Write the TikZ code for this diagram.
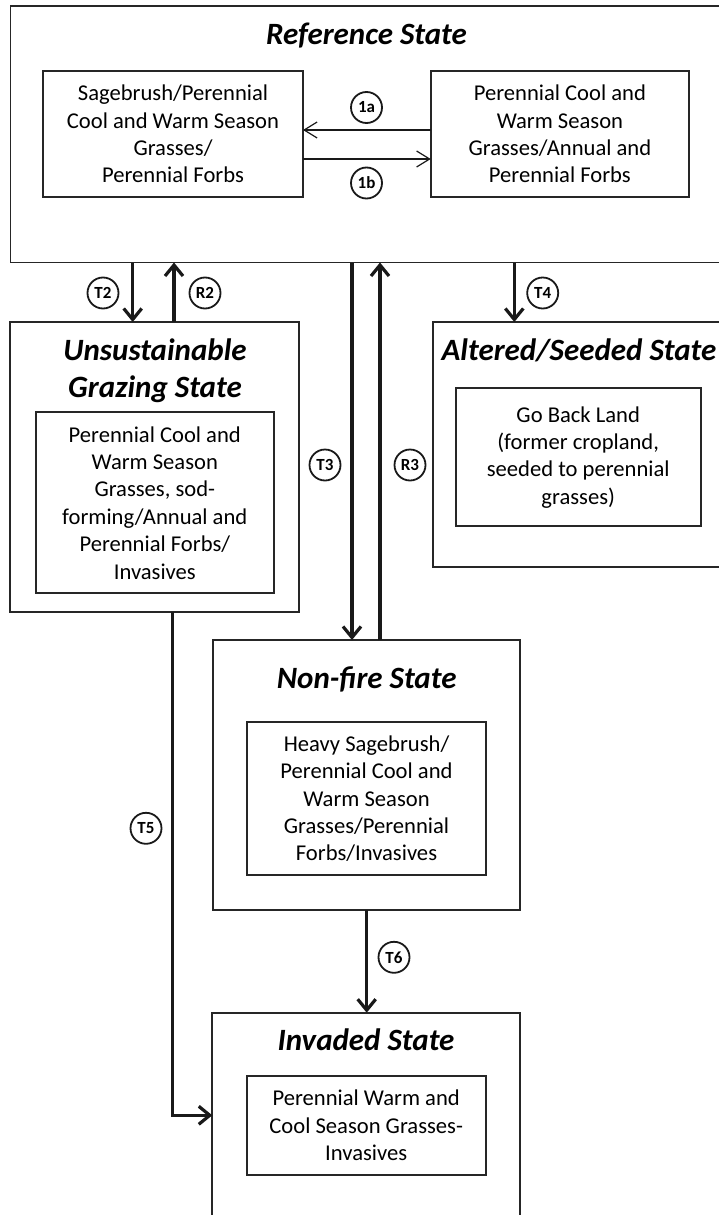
\documentclass[tikz,border=0pt]{standalone}
\usepackage{fontspec}
\setmainfont{Carlito}
\usetikzlibrary{arrows.meta}

\begin{document}
\begin{tikzpicture}[x=1pt,y=-1pt,
  statebox/.style={draw=black!85, line width=1.8pt, inner sep=0pt, outer sep=0pt},
  phasebox/.style={draw=black!85, line width=1.8pt, inner sep=0pt, outer sep=0pt,
    align=center, font=\fontsize{22.6}{27.4}\selectfont},
  statetitle/.style={font=\fontsize{31}{37}\selectfont\bfseries\itshape, align=center, inner sep=0pt},
  tag/.style={circle, draw=black!90, line width=1.8pt, minimum size=31pt, inner sep=0pt,
    font=\fontsize{17}{17}\selectfont\bfseries},
  conn/.style={draw=black!90, line width=3.2pt, -{Straight Barb[length=11pt,width=18pt]}},
  thinconn/.style={draw=black!90, line width=1.2pt, -{Straight Barb[length=13pt,width=16pt]}},
]
\path[use as bounding box] (0,0) rectangle (719,1215);
\clip (0,0) rectangle (719,1215);

% --- states (outer boxes) ---
\node[statebox, minimum width=729.5pt, minimum height=256.5pt] (ref) at (375.25,134.25) {};
\node[statebox, minimum width=289.3pt, minimum height=290pt]   (uns) at (154.65,467) {};
\node[statebox, minimum width=293.7pt, minimum height=244.7pt] (alt) at (580.15,444.35) {};
\node[statebox, minimum width=307.3pt, minimum height=270pt]   (nof) at (366.35,775) {};
\node[statebox, minimum width=307.7pt, minimum height=227.3pt] (inv) at (366.15,1126.35) {};

% --- state titles ---
\node[statetitle, anchor=base] (reft) at (366.5,45) {Reference State};
\node[statetitle] (unst) at (155,371) {Unsustainable\\Grazing State};
\node[statetitle, anchor=base] (altt) at (579,360) {Altered/Seeded State};
\node[statetitle, anchor=base] (noft) at (366.7,688.3) {Non-fire State};
\node[statetitle, anchor=base] (invt) at (366,1050) {Invaded State};

% --- community phases (inner boxes) ---
\node[phasebox, minimum width=260pt, minimum height=126pt] (lb) at (173,134)
  {Sagebrush/Perennial\\Cool and Warm Season\\Grasses/\\Perennial Forbs};
\node[phasebox, minimum width=258.3pt, minimum height=126pt] (rb) at (559.9,134)
  {Perennial Cool and\\Warm Season\\Grasses/Annual and\\Perennial Forbs};
\node[phasebox, minimum width=238.3pt, minimum height=181pt] (unsb) at (154.8,502.8)
  {Perennial Cool and\\Warm Season\\Grasses, sod-\\forming/Annual and\\Perennial Forbs/\\Invasives};
\node[phasebox, minimum width=245pt, minimum height=137.7pt] (altb) at (578.2,457.2)
  {Go Back Land\\(former cropland,\\seeded to perennial\\grasses)};
\node[phasebox, minimum width=238.4pt, minimum height=152.7pt] (nofb) at (366.5,798.7)
  {Heavy Sagebrush/\\Perennial Cool and\\Warm Season\\Grasses/Perennial\\Forbs/Invasives};
\node[phasebox, minimum width=239pt, minimum height=99pt] (invb) at (366.2,1125.5)
  {Perennial Warm and\\Cool Season Grasses-\\Invasives};

% --- connector positions ---
\coordinate (y1a) at (0,130);
\coordinate (y1b) at (0,159);
\coordinate (xT2) at (132.7,0);
\coordinate (xR2) at (174,0);
\coordinate (xT3) at (352,0);
\coordinate (xR3) at (380,0);
\coordinate (xT4) at (514.3,0);
\coordinate (xT5) at (172.3,0);
\coordinate (yT5) at (0,1115.3);
\coordinate (xT6) at (366.7,0);

% --- pathways within the reference state ---
\draw[thinconn] (rb.west |- y1a) -- (lb.east |- y1a);
\draw[thinconn] (lb.east |- y1b) -- (rb.west |- y1b);

% --- transitions and restorations ---
\draw[conn] (ref.south -| xT2) -- (uns.north -| xT2);
\draw[conn] (uns.north -| xR2) -- (ref.south -| xR2);
\draw[conn] (ref.south -| xT3) -- (nof.north -| xT3);
\draw[conn] (nof.north -| xR3) -- (ref.south -| xR3);
\draw[conn] (ref.south -| xT4) -- (alt.north -| xT4);
\draw[conn] (uns.south -| xT5) |- (inv.west |- yT5);
\draw[conn] (nof.south -| xT6) -- (inv.north -| xT6);

% --- pathway labels ---
\node[tag] (l1a) at (366.5,107.5) {1a};
\node[tag] (l1b) at (366.5,183) {1b};
\node[tag] (lT2) at (103,293) {T2};
\node[tag] (lR2) at (205,293) {R2};
\node[tag] (lT3) at (325,465) {T3};
\node[tag] (lR3) at (410,465) {R3};
\node[tag] (lT4) at (542.7,293) {T4};
\node[tag] (lT5) at (146,828.3) {T5};
\node[tag] (lT6) at (394,957.3) {T6};
\end{tikzpicture}
\end{document}
